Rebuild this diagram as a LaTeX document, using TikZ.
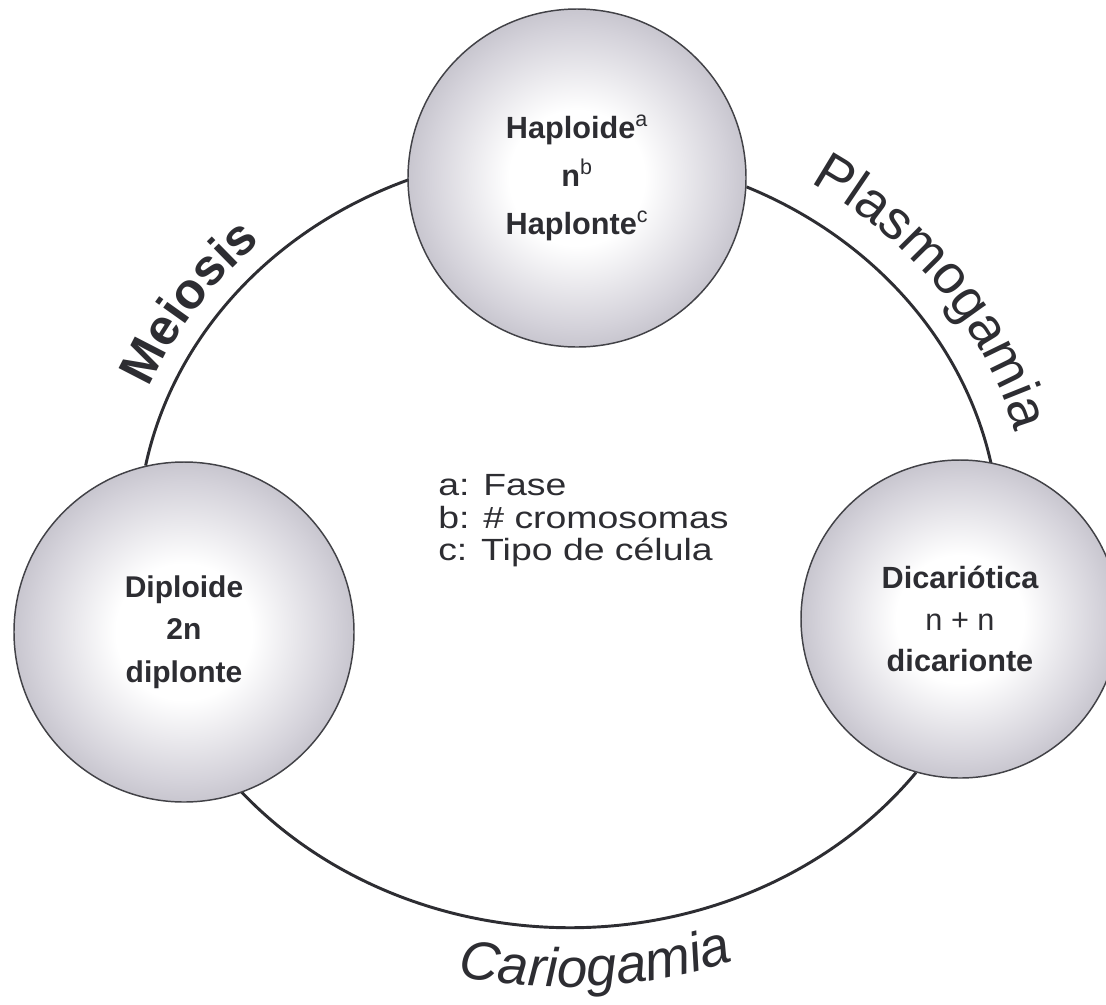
\documentclass[tikz,border=0pt]{standalone}
\usepackage{fontspec}
\setmainfont{Liberation Sans}
\newfontfamily\legendfont[FakeStretch=1.22]{Liberation Sans}
\usetikzlibrary{decorations.text}
\pgfdeclarelayer{background}
\pgfsetlayers{background,main}
\definecolor{ink}{RGB}{45,45,50}
\definecolor{sphA}{RGB}{212,210,218}
\definecolor{sphB}{RGB}{160,158,170}
\definecolor{sphedge}{RGB}{118,116,130}
\pgfdeclareradialshading{sphshade}{\pgfpoint{0bp}{0bp}}{color(0bp)=(white); color(10bp)=(white); color(22bp)=(sphA); color(35bp)=(sphB); color(50bp)=(sphedge); color(72bp)=(sphedge)}
\tikzset{
  spherenode/.style={circle, draw=ink!90, line width=1.1pt, shading=sphshade, text=ink, align=center, inner sep=0pt},
  ring/.style={draw=ink, line width=2.2pt},
  legend/.style={anchor=base west, inner sep=0pt, text=ink, font=\legendfont\fontsize{23}{26}\selectfont},
}
\begin{document}
\begin{tikzpicture}[x=0.75pt,y=0.75pt]
\path[use as bounding box] (0,0) rectangle (1106,-1004);
\coordinate (ctr) at (567,-540);

% spheres
\node[spherenode, minimum size=253.5pt, font=\bfseries\fontsize{23}{36}\selectfont] (hap) at (577,-178)
  {Haploide\textsuperscript{\mdseries a}\\n\textsuperscript{\mdseries b}\\Haplonte\textsuperscript{\mdseries c}};
\node[spherenode, minimum size=255pt, font=\bfseries\fontsize{22.5}{32}\selectfont] (dip) at (184,-632)
  {Diploide\\2n\\diplonte};
\node[spherenode, minimum size=238.5pt, font=\bfseries\fontsize{23}{31}\selectfont] (dic) at (960,-619)
  {Dicariótica\\{\mdseries n + n}\\dicarionte};

% white page and ring connectors (behind the spheres)
\begin{pgfonlayer}{background}
\fill[white] (0,0) rectangle (1106,-1004);
\draw[ring] (hap.-3.3) arc[start angle=65.5, end angle=8, x radius=324pt, y radius=290.25pt];
\draw[ring] (dic.-106) arc[start angle=-36.8, end angle=-142, x radius=324pt, y radius=290.25pt];
\draw[ring] (dip.103.9) arc[start angle=169.1, end angle=108, x radius=324pt, y radius=290.25pt];
\end{pgfonlayer}

% curved labels
\path[decorate, decoration={text along path, text align=center,
  text={|\bfseries\fontsize{38}{38}\selectfont\color{ink}|Meiosis}}]
  ([shift={(177:338pt and 304.5pt)}]ctr) arc[start angle=177, end angle=115, x radius=338pt, y radius=304.5pt];
\path[decorate, decoration={text along path, text align=center,
  text={|\fontsize{41}{41}\selectfont\color{ink}|Plasmogamia}}]
  ([shift={(74:348pt and 314.25pt)}]ctr) arc[start angle=74, end angle=-2, x radius=348pt, y radius=314.25pt];
\path[decorate, decoration={text along path, text align=center,
  text={|\itshape\fontsize{41}{41}\selectfont\color{ink}|Cariogamia}}]
  ([shift={(238:369pt and 335.25pt)}]ctr) arc[start angle=238, end angle=309.2, x radius=369pt, y radius=335.25pt];

% legend
\node[legend] (la) at (438,-495) {a: Fase};
\node[legend] (lb) at (438,-528) {b: \# cromosomas};
\node[legend] (lc) at (438,-560) {c: Tipo de célula};
\end{tikzpicture}
\end{document}
